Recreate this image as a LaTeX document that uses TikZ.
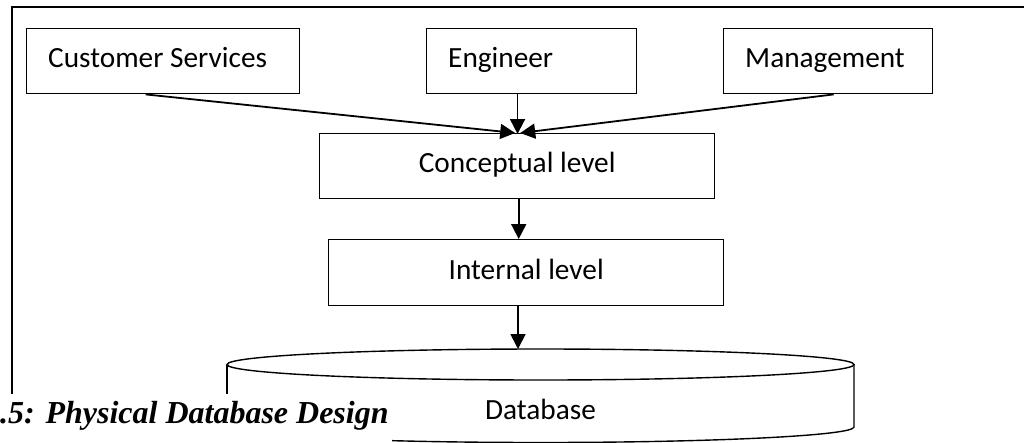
\documentclass[tikz,border=0pt]{standalone}
\usepackage{fontspec}
\setmainfont{Carlito}
\newfontfamily\capfont{Liberation Serif}
\usetikzlibrary{arrows.meta,calc}
\begin{document}
\begin{tikzpicture}[x=1pt,y=-1pt,
  boxfont/.style={font=\fontsize{29.3}{35}\selectfont},
  box/.style={boxfont,draw,line width=1.4pt,rectangle,inner ysep=0pt,
    text height=19pt,text depth=6pt},
  topbox/.style={box,minimum height=65pt,inner xsep=21.5pt,align=flush left,anchor=north west},
  midbox/.style={box,minimum width=395pt,anchor=north west},
  conn/.style={line width=1.8pt,-{Triangle[length=15pt,width=15pt]}},
  cyl/.style={line width=1.4pt},
  frame/.style={line width=2pt}]
\useasboundingbox (0,0) rectangle (1024,442);
% frame
\draw[frame] (12,442) -- (12,7) -- (1024,7);
% top boxes
\node[topbox,text width=230pt] (cs) at (26,28) {Customer Services};
\node[topbox,text width=167pt] (eng) at (426,28) {Engineer};
\node[topbox,text width=166pt] (mgmt) at (723,28) {Management};
% middle boxes
\node[midbox,minimum height=65pt] (conc) at (319,133) {Conceptual level};
\node[midbox,minimum height=66pt] (int) at (328,239) {Internal level};
% cylinder
\draw[cyl] (540.5,364.5) ellipse [x radius=313.5, y radius=15.5];
\draw[cyl] (227,364.5) -- (227,427);
\draw[cyl] (854,364.5) -- (854,427) arc [start angle=0, end angle=180, x radius=313.5, y radius=15.5];
\coordinate (dbtop) at (518,349);
\node[boxfont,anchor=base] (db) at (540.5,419) {Database};
% connectors
\coordinate (csout) at ($(cs.south west)!0.436!(cs.south east)$);
\coordinate (engout) at ($(eng.south west)!0.433!(eng.south east)$);
\coordinate (mgout) at ($(mgmt.south west)!0.526!(mgmt.south east)$);
\draw[conn] (csout) -- ([xshift=-2pt]conc.north);
\draw[conn] (mgout) -- ([xshift=3pt]conc.north);
\draw[conn] (engout) -- ([yshift=-1pt]engout |- conc.north);
\draw[conn] ([xshift=1.5pt]conc.south) -- ([xshift=1.5pt]conc.south |- int.north);
\draw[conn] (dbtop |- int.south) -- (dbtop);
% caption
\fill[white] (0,394) rectangle (392,442.5);
\node[anchor=base west,inner sep=0pt,font=\capfont\bfseries\itshape\fontsize{32}{38}\selectfont] (caption) at (0,423) {.5: Physical Database Design};
\end{tikzpicture}
\end{document}
